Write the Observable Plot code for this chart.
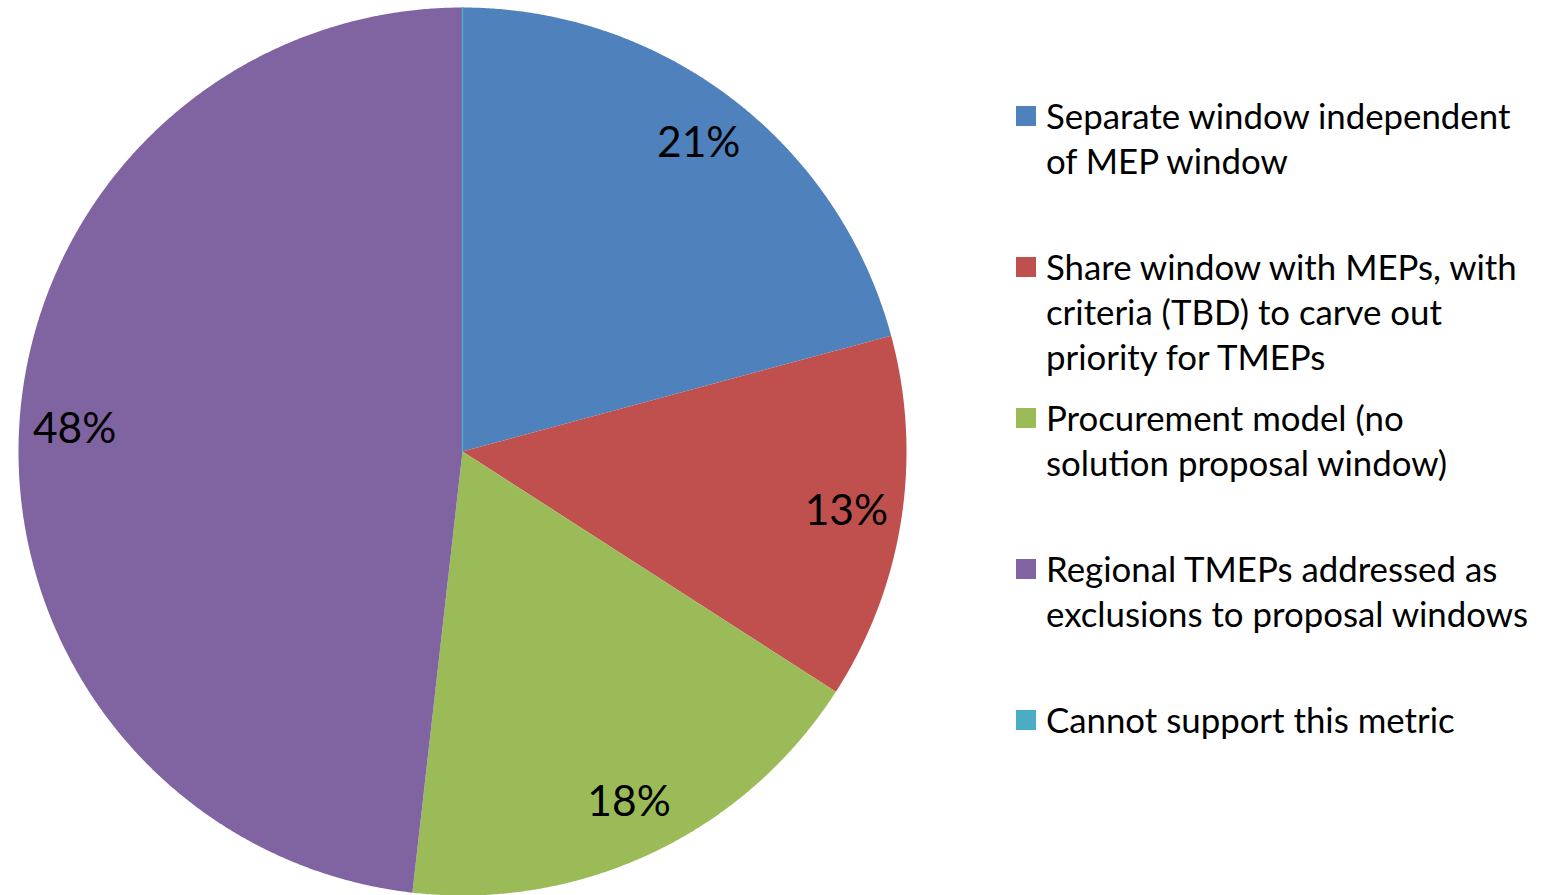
<!DOCTYPE html>
<html>
<head>
<meta charset="utf-8">
<script src="https://cdn.jsdelivr.net/npm/d3@7"></script>
<script src="https://cdn.jsdelivr.net/npm/@observablehq/plot@0.6"></script>
<style>
  html, body { margin: 0; padding: 0; background: #ffffff; }
  #wrap { position: relative; width: 1557px; height: 895px; overflow: hidden; font-family: Lato, "Open Sans", sans-serif; }
  #chart { position: absolute; left: 0; top: 0; }
  #legend { position: absolute; left: 1016px; top: 93px; }
  .item { display: flex; align-items: flex-start; height: 151px; }
  .sw { width: 20px; height: 20px; margin-top: 13px; margin-right: 10px; flex: none; }
  .txt { font-size: 34.8px; line-height: 45px; color: #000; white-space: nowrap; }
</style>
</head>
<body>
<div id="wrap">
  <div id="chart"></div>
  <div id="legend"></div>
</div>
<script>
// ---- data ----
const categories = [
  "Separate window independent of MEP window",
  "Share window with MEPs, with criteria (TBD) to carve out priority for TMEPs",
  "Procurement model (no solution proposal window)",
  "Regional TMEPs addressed as exclusions to proposal windows",
  "Cannot support this metric"
];
const legendLines = [
  ["Separate window independent", "of MEP window"],
  ["Share window with MEPs, with", "criteria (TBD) to carve out", "priority for TMEPs"],
  ["Procurement model (no", "solution proposal window)"],
  ["Regional TMEPs addressed as", "exclusions to proposal windows"],
  ["Cannot support this metric"]
];
const values = [20.8, 13.3, 17.7, 48.2, 0];
const valueLabels = ["21%", "13%", "18%", "48%", ""];
const colors = ["#4F81BD", "#C0504D", "#9BBB59", "#8064A2", "#4BACC6"];

// ---- geometry built from the data ----
const arcs = d3.pie().sort(null).value(d => d)(values);
const pt = (a, r) => [r * Math.sin(a), -r * Math.cos(a)];
const slices = arcs.map((a, i) => {
  const n = Math.max(2, Math.ceil((a.endAngle - a.startAngle) / 0.005));
  const ring = [[0, 0]];
  for (let k = 0; k <= n; k++) ring.push(pt(a.startAngle + (a.endAngle - a.startAngle) * k / n, 1));
  ring.push([0, 0]);
  return {type: "Feature", properties: {name: categories[i], color: colors[i], value: values[i]},
          geometry: {type: "Polygon", coordinates: [ring]}};
});
const circle = {type: "Polygon", coordinates: [d3.range(0, 361, 2).map(d => pt(d * Math.PI / 180, 1))]};
const labelData = arcs.map((a, i) => {
  const m = (a.startAngle + a.endAngle) / 2;
  const [x, y] = pt(m, 0.875);
  return {x, y, label: valueLabels[i]};
}).filter(d => d.label);

const chart = Plot.plot({
  width: 930,
  height: 895,
  marginTop: 7,
  marginLeft: 17,
  marginRight: 23,
  marginBottom: 0,
  projection: {type: "identity", domain: circle},
  marks: [
    Plot.geo(slices.filter(d => d.properties.value > 0), {fill: d => d.properties.color, stroke: "none"}),
    Plot.geo(slices.filter(d => d.properties.value === 0), {fill: d => d.properties.color, stroke: d => d.properties.color, strokeWidth: 1.5}),
    Plot.text(labelData, {x: "x", y: "y", text: "label", fontSize: 42.5, fill: "#000", fontFamily: "Lato, 'Open Sans', sans-serif"})
  ]
});
document.getElementById("chart").appendChild(chart);

const legend = d3.select("#legend");
categories.forEach((c, i) => {
  const it = legend.append("div").attr("class", "item").attr("title", c);
  it.append("div").attr("class", "sw").style("background", colors[i]);
  it.append("div").attr("class", "txt").html(legendLines[i].join("<br>"));
});
</script>
</body>
</html>
